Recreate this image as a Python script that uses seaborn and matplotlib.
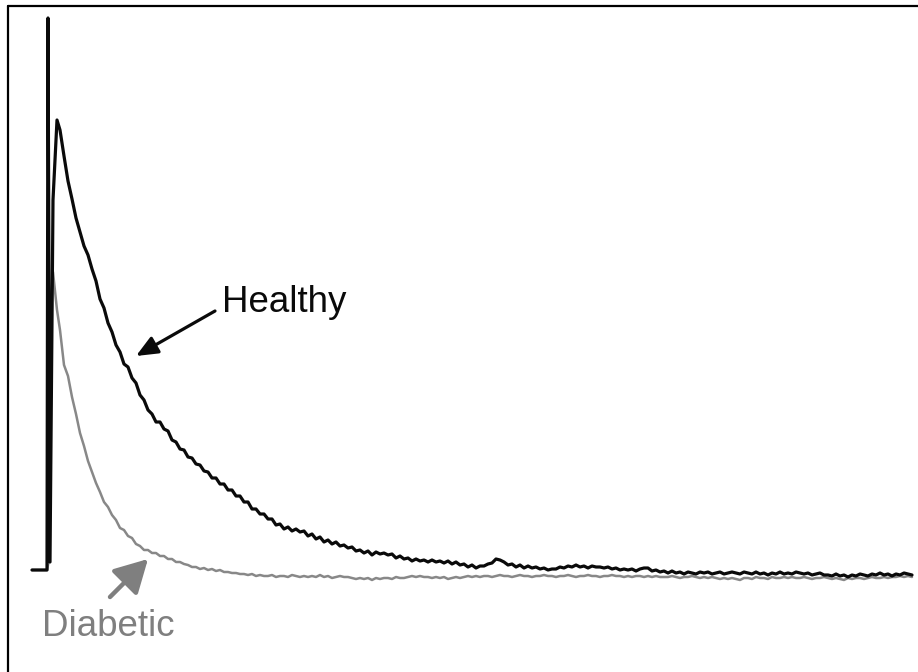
import numpy as np
import pandas as pd
import matplotlib
matplotlib.use("Agg")
import matplotlib.pyplot as plt
from matplotlib.lines import Line2D
import seaborn as sns

# Fluorescence decay traces (arbitrary units); time 0 = excitation pulse.
# Head of each trace: irregular samples around the pulse.
healthy_head_t = [-16, -8, -1, 0, 2, 5, 9, 12, 16]
healthy_head_y = [0, 0, 0, 552, 8, 370, 450, 440, 414]
diabetic_head_t = [-16, -8, -1, 1, 3, 5, 9, 12, 16]
diabetic_head_y = [0, 0, 0, 10, 270, 298, 260, 240, 205]

# Tail of each trace: samples every 4 time units starting at t = 20.
tail_start, tail_step = 20, 4
healthy_tail = [
    389, 371, 352, 338, 324, 315, 301, 289, 271, 262,
    247, 238, 225, 218, 206, 203, 192, 187, 175, 170,
    160, 156, 148, 148, 141, 139, 130, 128, 121, 120,
    113, 112, 106, 105, 99, 98, 92, 92, 86, 86,
    80, 80, 74, 74, 68, 68, 61, 61, 56, 56,
    51, 51, 45, 46, 41, 43, 39, 41, 38, 39,
    34, 36, 31, 33, 28, 30, 26, 28, 24, 25,
    22, 23, 19, 20, 17, 19, 15, 18, 16, 17,
    15, 16, 12, 14, 11, 12, 9, 11, 9, 10,
    8, 10, 8, 9, 7, 9, 6, 8, 5, 6,
    3, 5, 2, 4, 4, 6, 7, 11, 10, 8,
    5, 6, 3, 5, 2, 4, 2, 3, 1, 2,
    0, 1, 1, 3, 2, 4, 3, 5, 3, 4,
    2, 4, 3, 3, 2, 3, 1, 2, 0, 1,
    0, 1, -1, 1, 2, 2, -1, 0, -2, -1,
    -3, -1, -3, -2, -4, -2, -3, -4, -2, -3,
    -2, -4, -3, -2, -4, -3, -2, -3, -4, -2,
    -3, -4, -2, -4, -3, -5, -3, -4, -2, -4,
    -3, -4, -2, -3, -4, -3, -5, -4, -3, -5,
    -5, -6, -4, -6, -5, -7, -5, -6, -4, -5,
    -6, -4, -5, -3, -5, -4, -6, -4, -5, -3,
    -4, -5,
]
diabetic_tail = [
    194, 173, 156, 137, 124, 109, 98, 87, 78, 68,
    63, 55, 50, 42, 40, 34, 32, 26, 24, 20,
    20, 17, 17, 14, 14, 11, 11, 8, 8, 6,
    5, 3, 3, 1, 2, 0, 1, -1, 0, -2,
    -2, -3, -3, -4, -4, -5, -4, -6, -5, -6,
    -6, -5, -7, -6, -6, -7, -5, -6, -7, -6,
    -7, -6, -7, -5, -7, -6, -8, -7, -6, -7,
    -7, -8, -9, -8, -9, -8, -10, -8, -9, -8,
    -8, -9, -7, -8, -8, -7, -6, -7, -6, -7,
    -7, -8, -7, -8, -7, -9, -8, -7, -8, -7,
    -6, -7, -6, -7, -6, -6, -7, -6, -5, -6,
    -6, -7, -6, -5, -6, -6, -7, -6, -6, -5,
    -6, -6, -7, -6, -6, -5, -6, -7, -6, -6,
    -5, -6, -6, -7, -6, -6, -5, -6, -6, -7,
    -6, -7, -6, -6, -7, -6, -7, -6, -7, -7,
    -7, -6, -7, -8, -7, -7, -6, -7, -8, -7,
    -8, -7, -8, -9, -8, -9, -8, -9, -10, -8,
    -8, -9, -7, -8, -8, -9, -7, -8, -8, -7,
    -8, -7, -8, -8, -7, -8, -9, -8, -8, -7,
    -8, -9, -8, -9, -10, -8, -9, -8, -8, -9,
    -8, -7, -8, -8, -7, -8, -7, -7, -6, -7,
    -6, -7,
]

labels = ["Healthy", "Diabetic"]
colors = {"Healthy": "#0a0a0a", "Diabetic": "#888888"}


def trace_frame(name, head_t, head_y, tail):
    tail_t = tail_start + tail_step * np.arange(len(tail))
    t = np.concatenate([head_t, tail_t])
    y = np.concatenate([head_y, tail])
    return pd.DataFrame({"time": t, "signal": y, "trace": name})


df = pd.concat([
    trace_frame("Diabetic", diabetic_head_t, diabetic_head_y, diabetic_tail),
    trace_frame("Healthy", healthy_head_t, healthy_head_y, healthy_tail),
], ignore_index=True)

sns.set_style("white")
plt.rcParams["font.family"] = ["Liberation Sans", "DejaVu Sans"]

fig = plt.figure(figsize=(9.18, 6.72), dpi=100)
ax = fig.add_axes([0, 0, 1, 1])

for name, lw in [("Diabetic", 1.8), ("Healthy", 2.3)]:
    sns.lineplot(data=df[df["trace"] == name], x="time", y="signal",
                 color=colors[name], lw=lw, estimator=None, sort=False, ax=ax)

ax.set_xlim(-48, 870)
ax.set_ylim(-102, 570)
ax.set_axis_off()

# Labels with arrows pointing at each trace
ax.annotate("", xy=(88, 214), xytext=(167, 259),
            arrowprops=dict(arrowstyle="-|>,head_length=0.65,head_width=0.28",
                            mutation_scale=20, lw=2.3, color="#0a0a0a",
                            shrinkA=0, shrinkB=0))
ax.text(174, 258, "Healthy", fontsize=26.5, color="#0a0a0a",
        ha="left", va="baseline")

ax.annotate("", xy=(100, 11), xytext=(62, -27),
            arrowprops=dict(arrowstyle="-|>,head_length=1.0,head_width=0.55",
                            mutation_scale=20, lw=3.2, color="#7f7f7f",
                            shrinkA=0, shrinkB=0))
ax.text(-6, -66, "Diabetic", fontsize=26.5, color="#7f7f7f",
        ha="left", va="baseline")

# Frame lines along the top and left edges
x0, y0 = 7.5 / 918, 1 - 5.5 / 672
fig.add_artist(Line2D([x0, 1], [y0, y0], transform=fig.transFigure,
                      color="black", lw=1.6))
fig.add_artist(Line2D([x0, x0], [0, y0], transform=fig.transFigure,
                      color="black", lw=1.6))

fig.savefig("out.png", dpi=100, facecolor="white")
